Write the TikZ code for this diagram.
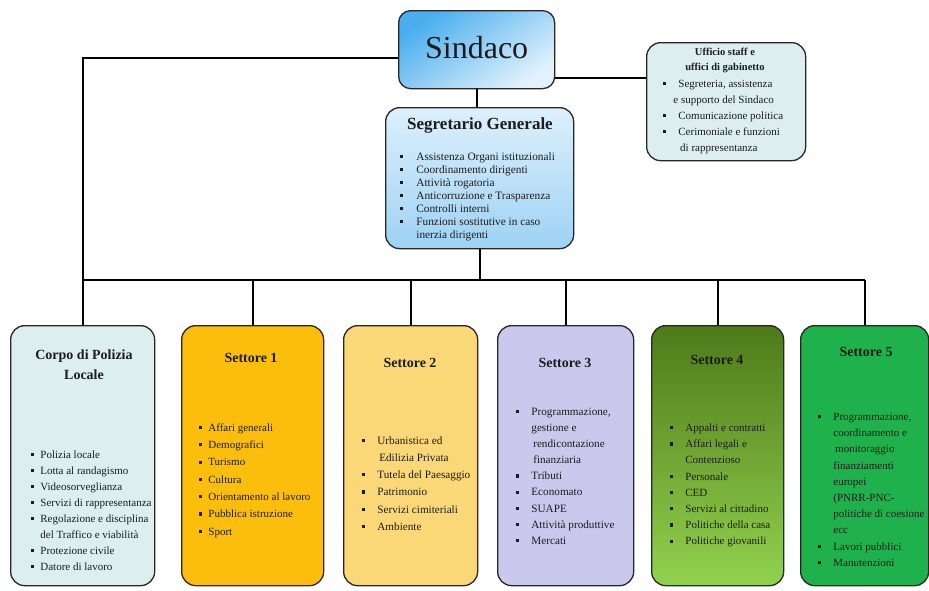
\documentclass[tikz,border=0pt]{standalone}
\usepackage{fontspec}
\setmainfont{Liberation Serif}
\definecolor{sindtop}{HTML}{4AAEEE}
\definecolor{sindbot}{HTML}{E2F2FC}
\definecolor{segtop}{HTML}{DDF0FC}
\definecolor{segbot}{HTML}{9ED2F4}
\definecolor{uffill}{HTML}{DCEEF0}
\definecolor{corpofill}{HTML}{DCEEF0}
\definecolor{sonefill}{HTML}{FCBE0C}
\definecolor{stwofill}{HTML}{FBD877}
\definecolor{sthreefill}{HTML}{CBC8EE}
\definecolor{sfourtop}{HTML}{4E7A1A}
\definecolor{sfourbot}{HTML}{92D24E}
\definecolor{sfivefill}{HTML}{1FB14C}
\definecolor{txt}{HTML}{1C1C1C}
\newcommand\blt{\raisebox{0.2em}{\rule{3.2pt}{3.2pt}}}
\newcommand\itemlst[4]{\fontsize{#4}{#1}\selectfont\begin{tabular}{@{}l@{\hspace{#2}}l@{}}#3\end{tabular}}
\begin{document}
\begin{tikzpicture}[x=1pt,y=-1pt,
  box/.style={draw=black!85, line width=1.3pt, rounded corners=14pt, anchor=north west, inner sep=0pt},
  conn/.style={line width=2pt, black},
  ttl/.style={font=\fontsize{14}{20}\selectfont\bfseries, align=center, text=txt, inner sep=0pt},
  lst/.style={anchor=north west, inner sep=0pt, text=txt}]
\useasboundingbox (0,0) rectangle (929,590);

% top boxes
\node[box, rounded corners=12pt, minimum width=156pt, minimum height=78pt,
      top color=sindtop, bottom color=sindbot, shading angle=35] (sindaco) at (398,10) {};
\node[font=\fontsize{32}{36}\selectfont, text=txt] (sindacot) at ([yshift=2pt]sindaco.center) {Sindaco};

\node[box, minimum width=159pt, minimum height=118pt, fill=uffill] (uff) at (646,42) {};
\node[ttl, font=\fontsize{10.5}{15}\selectfont\bfseries] (ufft) at (725,60) {Ufficio staff e\\uffici di gabinetto};
\node[lst] (uffl) at (663,76) {\itemlst{16pt}{12pt}{%
\blt & Segreteria, assistenza\\
 & \hspace{-5pt}e supporto del Sindaco\\
\blt & Comunicazione politica\\
\blt & Cerimoniale e funzioni\\
 & \,di rappresentanza}{11}};

\node[box, minimum width=188pt, minimum height=141pt,
      top color=segtop, bottom color=segbot] (segr) at (385,107) {};
\node[ttl, font=\fontsize{17}{20}\selectfont\bfseries] (segrt) at (480,125) {Segretario Generale};
\node[lst] (segrl) at (400,151) {\itemlst{13pt}{13pt}{%
\blt & Assistenza Organi istituzionali\\
\blt & Coordinamento dirigenti\\
\blt & Attività rogatoria\\
\blt & Anticorruzione e Trasparenza\\
\blt & Controlli interni\\
\blt & Funzioni sostitutive in caso\\
 & inerzia dirigenti}{11.3}};

% bottom boxes
\node[box, minimum width=144pt, minimum height=260pt, fill=corpofill] (corpo) at (10,325) {};
\node[ttl] (corpot) at (84,365) {Corpo di Polizia\\Locale};
\node[lst] (corpol) at (31,447) {\itemlst{16pt}{6pt}{%
\blt & Polizia locale\\
\blt & Lotta al randagismo\\
\blt & Videosorveglianza\\
\blt & Servizi di rappresentanza\\
\blt & Regolazione e disciplina\\
 & del Traffico e viabilità\\
\blt & Protezione civile\\
\blt & Datore di lavoro}{11}};

\node[box, minimum width=142pt, minimum height=260pt, fill=sonefill] (s1) at (181,325) {};
\node[ttl] (s1t) at (251,358) {Settore 1};
\node[lst] (s1l) at (199,419) {\itemlst{17.3pt}{6pt}{%
\blt & Affari generali\\
\blt & Demografici\\
\blt & Turismo\\
\blt & Cultura\\
\blt & Orientamento al lavoro\\
\blt & Pubblica istruzione\\
\blt & Sport}{11}};

\node[box, minimum width=134pt, minimum height=260pt, fill=stwofill] (s2) at (343,325) {};
\node[ttl] (s2t) at (410,363) {Settore 2};
\node[lst] (s2l) at (362,432) {\itemlst{17.2pt}{12pt}{%
\blt & Urbanistica ed\\
 & \,Edilizia Privata\\
\blt & Tutela del Paesaggio\\
\blt & Patrimonio\\
\blt & Servizi cimiteriali\\
\blt & Ambiente}{11.2}};

\node[box, minimum width=136pt, minimum height=260pt, fill=sthreefill] (s3) at (497,325) {};
\node[ttl] (s3t) at (565,363) {Settore 3};
\node[lst] (s3l) at (516,404) {\itemlst{16.1pt}{12pt}{%
\blt & Programmazione,\\
 & gestione e\\
 & \,rendicontazione\\
 & \,finanziaria\\
\blt & Tributi\\
\blt & Economato\\
\blt & SUAPE\\
\blt & Attività produttive\\
\blt & Mercati}{11.2}};

\node[box, minimum width=132pt, minimum height=260pt,
      top color=sfourtop, bottom color=sfourbot] (s4) at (651,325) {};
\node[ttl] (s4t) at (717,360) {Settore 4};
\node[lst] (s4l) at (670,420) {\itemlst{16.2pt}{12pt}{%
\blt & Appalti e contratti\\
\blt & Affari legali e\\
 & Contenzioso\\
\blt & Personale\\
\blt & CED\\
\blt & Servizi al cittadino\\
\blt & Politiche della casa\\
\blt & Politiche giovanili}{11}};

\node[box, minimum width=128pt, minimum height=260pt, fill=sfivefill] (s5) at (800,325) {};
\node[ttl] (s5t) at (866,352) {Settore 5};
\node[lst] (s5l) at (818,409) {\itemlst{16.2pt}{12pt}{%
\blt & Programmazione,\\
 & coordinamento e\\
 & \,monitoraggio\\
 & finanziamenti\\
 & europei\\
 & (PNRR-PNC-\\
 & politiche di coesione\\
 & ecc\\
\blt & Lavori pubblici\\
\blt & Manutenzioni}{11}};

% connectors
\coordinate (sl) at ([yshift=-8pt]sindaco.west);
\coordinate (sr) at ([yshift=-28pt]sindaco.east);
\coordinate (bus) at (474,280);
\draw[conn] (sl) -| (corpo.north);
\draw[conn] (sr) -- (sr -| uff.west);
\draw[conn] (sindaco.south) -- (sindaco.south |- segr.north);
\draw[conn] (segr.south) -- (segr.south |- bus);
\draw[conn] (corpo.north |- bus) -- (s5.north |- bus);
\foreach \n in {s1,s2,s3,s4,s5} \draw[conn] (\n.north |- bus) -- (\n.north);
\end{tikzpicture}
\end{document}
